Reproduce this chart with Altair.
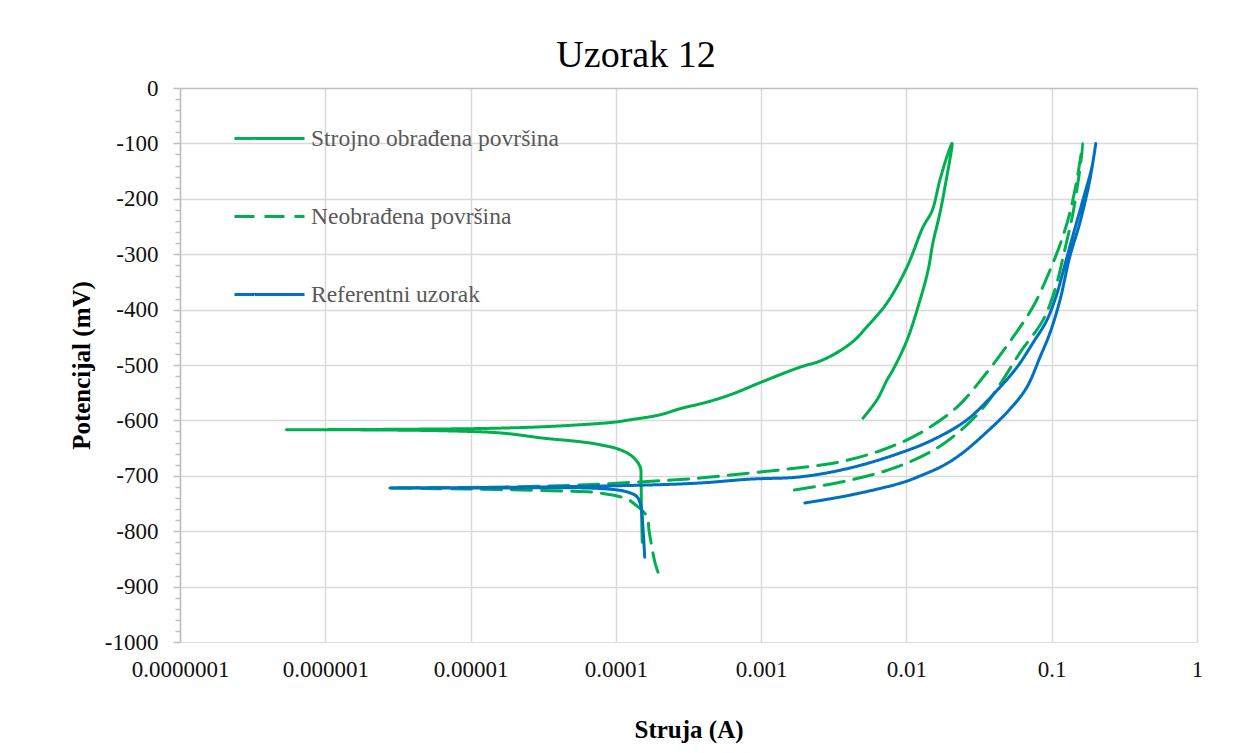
import altair as alt
import pandas as pd

SERIES = ["Strojno obrađena površina", "Neobrađena površina", "Referentni uzorak"]
COLORS = ["#00B050", "#00B050", "#0070C0"]
DASHES = [[1, 0], [20, 10], [1, 0]]

# Strojno obrađena površina (green solid)
STROJNO_I = [1.52e-4, 1.50e-4, 1.49e-4, 1.47e-4, 1.31e-4, 1.07e-4, 7.8e-5, 5.9e-5, 3.15e-5, 1.67e-5,
             7.2e-6, 1.48e-6, 5.4e-7, 3.27e-6, 1.59e-5, 4.12e-5, 9.9e-5, 1.25e-4, 2.01e-4, 2.76e-4,
             4.24e-4, 6.4e-4, 9.8e-4, 1.85e-3, 2.54e-3, 3.46e-3, 4.40e-3, 5.35e-3, 7.35e-3, 0.0101,
             0.0130, 0.0150, 0.0170, 0.0190, 0.0206, 0.0184, 0.0170, 0.0152, 0.0141, 0.0124,
             0.0101, 0.00807, 0.00735, 0.00627, 0.00502]
STROJNO_E = [-820, -760, -708, -684, -666, -653, -644, -639, -632, -623,
             -619, -617, -617, -616, -614, -610, -603, -599, -590, -579,
             -567, -552, -532, -504, -493, -475, -455, -431, -388, -323,
             -251, -222, -166, -124, -100, -179, -226, -280, -329, -383,
             -455, -509, -527, -563, -596]

# Neobrađena površina (green dashed)
NEOBR_I = [1.95e-4, 1.86e-4, 1.77e-4, 1.69e-4, 1.64e-4, 1.42e-4, 1.19e-4, 7.8e-5, 3.5e-5, 9.9e-6,
           2.79e-6, 9.9e-6, 4.12e-5, 1.47e-4, 3.79e-4, 8.4e-4, 1.76e-3, 3.48e-3, 6.89e-3, 0.0124,
           0.0223, 0.0337, 0.0515, 0.0743, 0.0973, 0.119, 0.133, 0.149, 0.164, 0.156,
           0.140, 0.123, 0.105, 0.0871, 0.0604, 0.0461, 0.0358, 0.0261, 0.0162, 0.00861,
           0.00408, 0.00158]
NEOBR_E = [-874, -857, -829, -798, -774, -756, -742, -731, -727, -724,
           -722, -721, -718, -711, -704, -695, -686, -675, -653, -623,
           -576, -522, -458, -395, -329, -269, -226, -166, -100, -148,
           -226, -292, -365, -419, -478, -527, -569, -608, -650, -684,
           -708, -727]

# Referentni uzorak (blue solid)
REF_I = [1.58e-4, 1.54e-4, 1.49e-4, 1.40e-4, 1.19e-4, 7.8e-5, 1.59e-5, 2.79e-6, 1.59e-5, 1.47e-4,
         3.79e-4, 8.4e-4, 1.85e-3, 4.08e-3, 9.0e-3, 0.0152, 0.0261, 0.0441, 0.0577, 0.0743,
         0.0927, 0.109, 0.119, 0.133, 0.164, 0.189, 0.201, 0.183, 0.156, 0.133,
         0.114, 0.0973, 0.0830, 0.0675, 0.0515, 0.0337, 0.0240, 0.0178, 0.0125, 0.00946,
         0.00408, 0.0020]
REF_E = [-847, -798, -756, -738, -729, -723, -722, -722, -721, -717,
         -713, -706, -702, -686, -659, -635, -599, -540, -504, -460,
         -419, -370, -334, -287, -202, -143, -100, -166, -244, -305,
         -383, -442, -486, -540, -580, -627, -660, -682, -700, -712,
         -735, -749]

X_TICKS = [1e-7, 1e-6, 1e-5, 1e-4, 1e-3, 1e-2, 1e-1, 1]
X_LABELS = ["0.0000001", "0.000001", "0.00001", "0.0001", "0.001", "0.01", "0.1", "1"]
Y_TICKS = list(range(-1000, 1, 20))

rows = []
for name, cur, pot in zip(SERIES, [STROJNO_I, NEOBR_I, REF_I], [STROJNO_E, NEOBR_E, REF_E]):
    for k, (c, p) in enumerate(zip(cur, pot)):
        rows.append({"serija": name, "k": k, "struja": c, "potencijal": p})
df = pd.DataFrame(rows)

# label expression for the log axis built from the tick label list
x_expr = "'" + X_LABELS[-1] + "'"
for t, lab in reversed(list(zip(X_TICKS[:-1], X_LABELS[:-1]))):
    x_expr = f"datum.value < {t * 3.0} ? '{lab}' : ({x_expr})"

FONT = "Liberation Serif"

x_axis = alt.Axis(
    values=X_TICKS, labelExpr=x_expr, title="Struja (A)",
    grid=True, gridColor="#d9d9d9", gridWidth=1.5, ticks=False, domain=False,
    labelFont=FONT, labelFontSize=23, labelColor="#111111", labelPadding=16,
    labelOverlap=False, labelFlush=False,
    titleFont=FONT, titleFontSize=25, titleFontWeight="bold", titleColor="#000000",
    titlePadding=36,
)
y_axis = alt.Axis(
    values=Y_TICKS,
    labelExpr="datum.value % 100 === 0 ? '' + datum.value : ''",
    title="Potencijal (mV)",
    grid=True, gridWidth=1.5,
    gridColor={"condition": {"test": "datum.value === 0", "value": "#bfbfbf"}, "value": "#d9d9d9"},
    gridOpacity={"condition": {"test": "datum.value % 100 !== 0 || datum.value === -1000", "value": 0}, "value": 1},
    tickSize={"condition": {"test": "datum.value % 100 === 0", "value": 7}, "value": 5},
    tickColor="#bfbfbf", tickWidth=1.5,
    domainColor="#bfbfbf", domainWidth=1.5,
    labelFont=FONT, labelFontSize=23, labelColor="#111111", labelPadding=15,
    labelOverlap=False,
    titleFont=FONT, titleFontSize=25, titleFontWeight="bold", titleColor="#000000",
    titlePadding=10,
)

leg = alt.Legend(
    title=None, orient="none", legendX=53, legendY=14, padding=0,
    symbolType="stroke", symbolSize=4900, symbolStrokeWidth=3,
    labelFont=FONT, labelFontSize=23.5, labelColor="#595959", labelOffset=5,
    labelLimit=500, rowPadding=30,
)

base = alt.Chart(df).mark_line(
    strokeWidth=3, strokeCap="round", strokeJoin="round", clip=True, interpolate="catmull-rom"
).encode(
    x=alt.X("struja:Q", scale=alt.Scale(type="log", domain=[1e-7, 1], nice=False), axis=x_axis),
    y=alt.Y("potencijal:Q", scale=alt.Scale(domain=[-1000, 0], nice=False, zero=False), axis=y_axis),
    color=alt.Color("serija:N", scale=alt.Scale(domain=SERIES, range=COLORS), legend=leg),
    strokeDash=alt.StrokeDash("serija:N", scale=alt.Scale(domain=SERIES, range=DASHES), legend=leg),
    order=alt.Order("k:Q"),
)

layers = [base.transform_filter(alt.datum.serija == name) for name in SERIES]

chart = alt.layer(*layers).properties(
    width=1017, height=554,
    autosize=alt.AutoSizeParams(type="none"),
    padding={"left": 172, "top": 80, "right": 30, "bottom": 103},
    title=alt.TitleParams("Uzorak 12", font=FONT, fontSize=38, fontWeight="normal",
                          color="#000000", anchor="middle", frame="bounds", offset=2),
).configure_view(strokeWidth=0).configure(background="white")

chart.save("out.html", embed_options={"renderer": "svg", "actions": False})
